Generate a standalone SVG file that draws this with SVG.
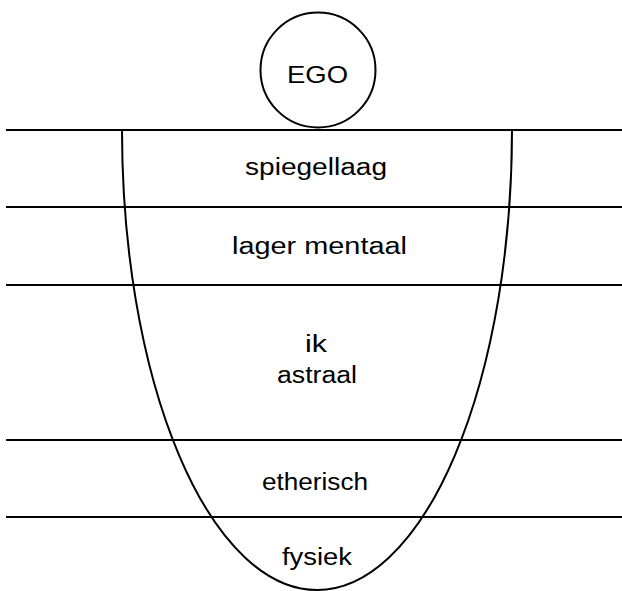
<svg xmlns="http://www.w3.org/2000/svg" width="622" height="591" viewBox="0 0 622 591">
<style>
.ln{stroke:#000;stroke-width:2.2;fill:none}
.cv{stroke:#000;stroke-width:2;fill:none}
.t{font-family:"Liberation Sans",Arial,sans-serif;font-size:23px;fill:#000;text-anchor:start}
</style>
<rect width="622" height="591" fill="#fff"/>
<g id="connectors">
<line class="ln" x1="6" y1="130" x2="622" y2="130"/>
<line class="ln" x1="6" y1="207" x2="622" y2="207"/>
<line class="ln" x1="6" y1="285" x2="622" y2="285"/>
<line class="ln" x1="6" y1="440" x2="622" y2="440"/>
<line class="ln" x1="6" y1="517" x2="622" y2="517"/>
<path class="cv" d="M122,130 A195,460 0 0,0 512,130"/>
</g>
<g id="ego">
<circle cx="318" cy="70" r="57.5" class="cv"/>
<text class="t" x="287" y="83" textLength="61" lengthAdjust="spacingAndGlyphs" style="font-size:24px">EGO</text>
</g>
<g id="spiegellaag"><text class="t" x="245" y="175" textLength="142" lengthAdjust="spacingAndGlyphs">spiegellaag</text></g>
<g id="lager-mentaal"><text class="t" x="232" y="254" textLength="175" lengthAdjust="spacingAndGlyphs">lager mentaal</text></g>
<g id="ik-astraal">
<text class="t" x="305" y="352" textLength="22" lengthAdjust="spacingAndGlyphs">ik</text>
<text class="t" x="277" y="383" textLength="80" lengthAdjust="spacingAndGlyphs">astraal</text>
</g>
<g id="etherisch"><text class="t" x="262" y="490" textLength="106" lengthAdjust="spacingAndGlyphs">etherisch</text></g>
<g id="fysiek"><text class="t" x="282" y="565" textLength="70" lengthAdjust="spacingAndGlyphs">fysiek</text></g>
</svg>
